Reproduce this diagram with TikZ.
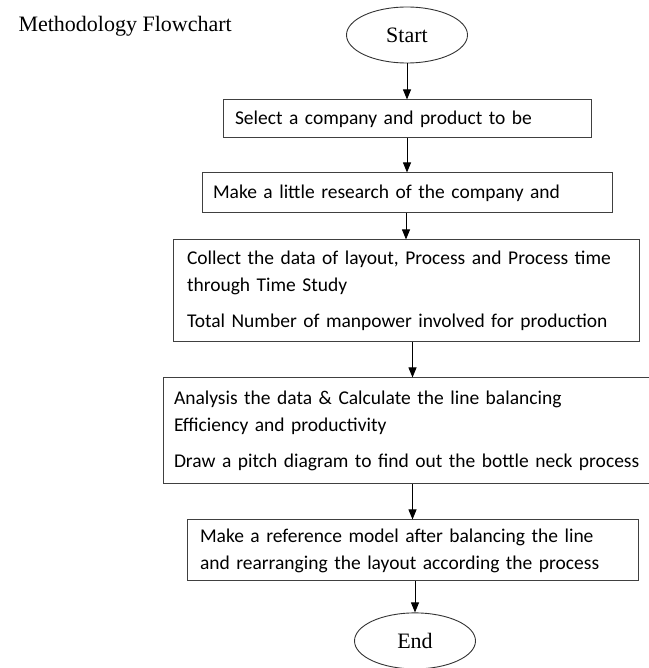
\documentclass[tikz,border=0pt]{standalone}
\usepackage{fontspec}
\setmainfont{Liberation Serif}
\newfontfamily\boxfont{Carlito}
\usetikzlibrary{shapes.geometric, arrows.meta, positioning}
\hyphenpenalty=10000

\begin{document}
\begin{tikzpicture}[
  x=1pt, y=1pt,
  node distance=34pt,
  box/.style={rectangle, draw=black!75, line width=1pt, align=left, font=\boxfont\fontsize{19.5}{27}\selectfont},
  term/.style={ellipse, draw=black!80, line width=0.9pt, minimum width=121pt, minimum height=56pt, font=\fontsize{22}{24}\selectfont},
  arr/.style={-{Triangle[length=10pt, width=8pt]}, line width=0.9pt},
]
\useasboundingbox (0,0) rectangle (648,-668);

\node[anchor=base west, font=\fontsize{22}{24}\selectfont] (title) at (15,-32) {Methodology Flowchart};

\node[term] (start) at (407,-35) {Start};
\node[box, inner xsep=12pt, text width=344pt, minimum height=38pt, below=36pt of start] (select) {Select a company and product to be};
\node[box, inner xsep=11pt, text width=388pt, minimum height=40pt, below=34pt of select] (research) {Make a little research of the company and};
\node[box, inner xsep=14pt, text width=438pt, minimum height=102pt, below=26pt of research, xshift=-1pt] (collect) {Collect the data of layout, Process and Process time\\through Time Study\\[9pt]Total Number of manpower involved for production};
\node[box, inner xsep=11pt, text width=467pt, minimum height=106pt, below=35pt of collect, xshift=1.5pt] (analysis) {Analysis the data \& Calculate the line balancing\\Efficiency and productivity\\[9pt]Draw a pitch diagram to find out the bottle neck process};
\node[box, inner xsep=13pt, text width=425pt, minimum height=61pt, below=35pt of analysis, xshift=5pt] (model) {Make a reference model after balancing the line\\and rearranging the layout according the process};
\node[term, below=31pt of model, xshift=2.5pt] (end) {End};

\draw[arr] (start) -- (select);
\draw[arr] (select) -- (research);
\draw[arr] (collect.north |- research.south) -- (collect.north);
\draw[arr] (model.north |- collect.south) -- (model.north |- analysis.north);
\draw[arr] (model.north |- analysis.south) -- (model.north);
\draw[arr] (end.north |- model.south) -- (end.north);
\end{tikzpicture}
\end{document}
